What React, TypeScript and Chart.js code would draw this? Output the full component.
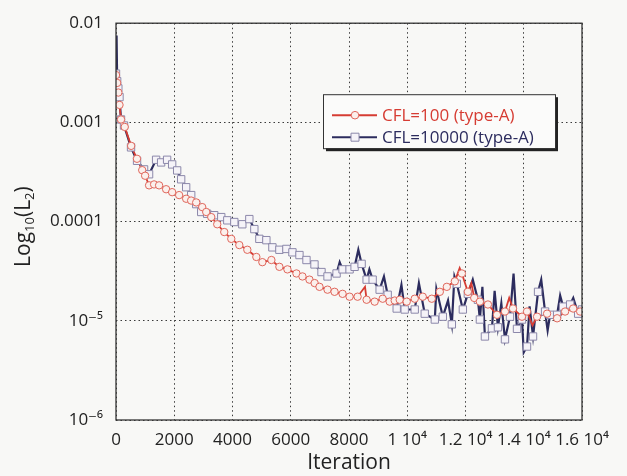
import { useEffect, useRef } from 'react';
import { Chart, registerables } from 'chart.js';

Chart.register(...registerables);

// ---------- data ----------
const seriesNames = ['CFL=100 (type-A)', 'CFL=10000 (type-A)'];

const xTickValues = [0, 2000, 4000, 6000, 8000, 10000, 12000, 14000, 16000];
const xTickLabels = ['0', '2000', '4000', '6000', '8000', '1 10⁴', '1.2 10⁴', '1.4 10⁴', '1.6 10⁴'];
const yTickValues = [1e-6, 1e-5, 1e-4, 1e-3, 1e-2];
const yTickLabels = ['10⁻⁶', '10⁻⁵', '0.0001', '0.001', '0.01'];

// CFL=100 (type-A): marker samples
const cfl100Iter = [
  0, 40, 80, 120, 172, 300, 520, 720, 900, 1000, 1136, 1308, 1480, 1721, 1928, 2168, 2409, 2580,
  2754, 2960, 3098, 3270, 3476, 3717, 3958, 4234, 4509, 4819, 5025, 5335, 5610, 5886, 6196, 6402,
  6643, 6820, 6987, 7263, 7504, 7779, 8020, 8295, 8605, 8881, 9156, 9397, 9570, 9741, 9982, 10257,
  10532, 10842, 11118, 11359, 11634, 11875, 12081, 12300, 12494, 12770, 13080, 13355, 13630, 13940,
  14112, 14457, 14801, 15145, 15420, 15696, 15937,
];
const cfl100Res = [
  3.0e-3, 2.5e-3, 2.0e-3, 1.5e-3, 1.07e-3, 9.0e-4, 5.8e-4, 4.3e-4, 3.3e-4, 2.9e-4, 2.32e-4, 2.37e-4,
  2.32e-4, 2.12e-4, 1.98e-4, 1.85e-4, 1.7e-4, 1.63e-4, 1.56e-4, 1.4e-4, 1.25e-4, 1.11e-4, 9.4e-5,
  7.85e-5, 6.7e-5, 5.8e-5, 5.2e-5, 4.4e-5, 3.9e-5, 4.1e-5, 3.5e-5, 3.3e-5, 3.0e-5, 2.8e-5, 2.6e-5,
  2.4e-5, 2.2e-5, 2.06e-5, 1.96e-5, 1.87e-5, 1.75e-5, 1.75e-5, 1.63e-5, 1.56e-5, 1.67e-5, 1.56e-5,
  1.6e-5, 1.63e-5, 1.56e-5, 1.67e-5, 1.75e-5, 1.67e-5, 1.96e-5, 2.2e-5, 2.5e-5, 3.0e-5, 1.96e-5,
  1.7e-5, 1.56e-5, 1.46e-5, 1.15e-5, 1.24e-5, 1.33e-5, 1.1e-5, 1.24e-5, 1.1e-5, 1.18e-5, 1.06e-5,
  1.24e-5, 1.33e-5, 1.24e-5,
];
// CFL=100 (type-A): extra residual spikes between markers (line only)
const cfl100SpikeIter = [8550, 11800, 12200, 13500, 14300];
const cfl100SpikeRes = [2.2e-5, 3.4e-5, 2.4e-5, 1.7e-5, 9.0e-6];

// CFL=10000 (type-A): marker samples
const cfl10000Iter = [
  0, 40, 80, 120, 172, 275, 516, 723, 964, 1136, 1377, 1549, 1755, 1928, 2100, 2237, 2409, 2582,
  2754, 2926, 3130, 3373, 3614, 3821, 4062, 4337, 4578, 4750, 4922, 5163, 5370, 5610, 5851, 6058,
  6299, 6540, 6815, 7056, 7263, 7573, 7779, 8020, 8192, 8433, 8605, 8812, 9052, 9328, 9638, 9913,
  10257, 10601, 10946, 11221, 11531, 11703, 11909, 12081, 12426, 12494, 12667, 12908, 13114, 13355,
  13527, 13768, 13940, 14112, 14319, 14491, 14732, 14904, 15145, 15351, 15593, 15868, 16000,
];
const cfl10000Res = [
  3.1e-3, 2.6e-3, 2.2e-3, 1.8e-3, 1.07e-3, 9.3e-4, 5.6e-4, 4.1e-4, 3.36e-4, 3.0e-4, 4.2e-4, 3.95e-4,
  4.2e-4, 3.77e-4, 3.28e-4, 2.67e-4, 2.22e-4, 1.85e-4, 1.5e-4, 1.25e-4, 1.2e-4, 1.16e-4, 1.11e-4,
  1.03e-4, 9.9e-5, 9.4e-5, 1.06e-4, 8.4e-5, 6.7e-5, 6.5e-5, 5.5e-5, 5.2e-5, 5.3e-5, 4.9e-5, 4.6e-5,
  4.1e-5, 3.7e-5, 3.1e-5, 2.8e-5, 3.0e-5, 3.3e-5, 3.3e-5, 3.5e-5, 3.75e-5, 2.6e-5, 2.6e-5, 2.06e-5,
  1.83e-5, 1.33e-5, 1.3e-5, 1.3e-5, 1.18e-5, 1.03e-5, 1.1e-5, 9.2e-6, 2.36e-5, 1.3e-5, 1.87e-5,
  1.63e-5, 1.03e-5, 6.95e-6, 8.4e-6, 8.6e-6, 6.5e-6, 1.1e-5, 8.3e-6, 1.03e-5, 5.5e-6, 6.95e-6,
  1.96e-5, 1.24e-5, 1.15e-5, 1.15e-5, 1.39e-5, 1.46e-5, 1.18e-5, 1.3e-5,
];
// CFL=10000 (type-A): extra residual spikes between markers (line only)
const cfl10000SpikeIter = [
  20, 7680, 8320, 8700, 9200, 9800, 10400, 11000, 11400, 11620, 12250, 12580, 13000, 13230, 13650,
  14000, 14200, 14600, 14820, 15250, 15700,
];
const cfl10000SpikeRes = [
  7.5e-3, 3.9e-5, 5.2e-5, 3.3e-5, 2.8e-5, 2.3e-5, 2.4e-5, 2.1e-5, 1.6e-5, 2.8e-5, 2.6e-5, 2.2e-5,
  2.0e-5, 1.5e-5, 3.0e-5, 4.8e-6, 1.4e-5, 2.6e-5, 8.0e-6, 1.8e-5, 1.7e-5,
];

// ---------- helpers ----------
type P = { x: number; y: number };
const toPoints = (xs: number[], ys: number[]): P[] => xs.map((x, i) => ({ x, y: ys[i] }));
const mergeLine = (xs: number[], ys: number[], sx: number[], sy: number[]): P[] =>
  [...toPoints(xs, ys), ...toPoints(sx, sy)].sort((a, b) => a.x - b.x);

const FONT = '"Open Sans", "DejaVu Sans", sans-serif';
const RED = '#d63c33';
const RED_MARK = '#e0675c';
const RED_FILL = '#fbf0ec';
const NAVY = '#2c2c5e';
const NAVY_MARK = '#8c88aa';
const NAVY_FILL = '#f5f3f8';
const INK = '#222222';

const decorPlugin = {
  id: 'decor',
  beforeDraw(chart: any) {
    const { ctx, width, height } = chart;
    ctx.save();
    ctx.fillStyle = '#f8f8f6';
    ctx.fillRect(0, 0, width, height);
    ctx.restore();
  },
  afterDatasetsDraw(chart: any) {
    const { ctx, chartArea: a } = chart;
    ctx.save();
    // plot frame
    ctx.strokeStyle = '#333';
    ctx.lineWidth = 1.3;
    ctx.strokeRect(a.left, a.top, a.right - a.left, a.bottom - a.top);

    // legend box
    const bx = a.left + 207;
    const by = a.top + 71;
    const bw = 232;
    const bh = 54;
    ctx.fillStyle = '#222';
    ctx.fillRect(bx + 3, by + 3, bw, bh);
    ctx.fillStyle = '#fbfbfa';
    ctx.fillRect(bx, by, bw, bh);
    ctx.strokeStyle = '#333';
    ctx.lineWidth = 1;
    ctx.strokeRect(bx + 0.5, by + 0.5, bw, bh);

    const rows = [
      { y: by + 21, line: RED, mark: RED_MARK, fill: RED_FILL, text: RED, shape: 'circle' },
      { y: by + 43, line: NAVY, mark: NAVY_MARK, fill: NAVY_FILL, text: NAVY, shape: 'rect' },
    ];
    rows.forEach((r, i) => {
      ctx.strokeStyle = r.line;
      ctx.lineWidth = 2;
      ctx.beginPath();
      ctx.moveTo(bx + 9, r.y);
      ctx.lineTo(bx + 54, r.y);
      ctx.stroke();
      ctx.fillStyle = r.fill;
      ctx.strokeStyle = r.mark;
      ctx.lineWidth = 1;
      ctx.beginPath();
      if (r.shape === 'circle') ctx.arc(bx + 32, r.y, 3.8, 0, Math.PI * 2);
      else ctx.rect(bx + 28, r.y - 4, 8, 8);
      ctx.fill();
      ctx.stroke();
      ctx.fillStyle = r.text;
      ctx.font = `17px ${FONT}`;
      ctx.textAlign = 'left';
      ctx.textBaseline = 'middle';
      ctx.fillText(seriesNames[i], bx + 59, r.y + 1);
    });
    ctx.restore();
  },
  afterDraw(chart: any) {
    const { ctx, chartArea: a } = chart;
    ctx.save();
    ctx.fillStyle = INK;
    // x title
    ctx.font = `21px ${FONT}`;
    ctx.textAlign = 'center';
    ctx.textBaseline = 'middle';
    ctx.fillText('Iteration', (a.left + a.right) / 2, 463);

    // y title with subscripts: Log10(L2)
    const parts = [
      { t: 'Log', s: 21, dy: 0 },
      { t: '10', s: 13, dy: 6 },
      { t: '(L', s: 21, dy: 0 },
      { t: '2', s: 13, dy: 6 },
      { t: ')', s: 21, dy: 0 },
    ];
    let total = 0;
    parts.forEach((p) => {
      ctx.font = `${p.s}px ${FONT}`;
      total += ctx.measureText(p.t).width;
    });
    ctx.translate(24, (a.top + a.bottom) / 2 + 5);
    ctx.rotate(-Math.PI / 2);
    ctx.textAlign = 'left';
    let cx = -total / 2;
    parts.forEach((p) => {
      ctx.font = `${p.s}px ${FONT}`;
      ctx.fillText(p.t, cx, p.dy);
      cx += ctx.measureText(p.t).width;
    });
    ctx.restore();
  },
};

export default function App() {
  const ref = useRef<HTMLCanvasElement | null>(null);

  useEffect(() => {
    document.body.style.margin = '0';
    if (!ref.current) return;
    const chart = new Chart(ref.current, {
      type: 'line',
      data: {
        datasets: [
          {
            label: seriesNames[1] + ' line',
            data: mergeLine(cfl10000Iter, cfl10000Res, cfl10000SpikeIter, cfl10000SpikeRes),
            borderColor: NAVY,
            borderWidth: 2.2,
            pointRadius: 0,
            tension: 0,
            order: 4,
          },
          {
            label: seriesNames[0] + ' line',
            data: mergeLine(cfl100Iter, cfl100Res, cfl100SpikeIter, cfl100SpikeRes),
            borderColor: RED,
            borderWidth: 1.8,
            pointRadius: 0,
            tension: 0,
            order: 3,
          },
          {
            label: seriesNames[1],
            data: toPoints(cfl10000Iter, cfl10000Res),
            showLine: false,
            pointStyle: 'rect',
            pointRadius: 5.2,
            pointBorderWidth: 1,
            pointBorderColor: NAVY_MARK,
            pointBackgroundColor: NAVY_FILL,
            order: 2,
          },
          {
            label: seriesNames[0],
            data: toPoints(cfl100Iter, cfl100Res),
            showLine: false,
            pointStyle: 'circle',
            pointRadius: 3.7,
            pointBorderWidth: 1,
            pointBorderColor: RED_MARK,
            pointBackgroundColor: RED_FILL,
            order: 1,
          },
        ],
      },
      options: {
        animation: false,
        responsive: false,
        maintainAspectRatio: false,
        layout: { padding: { left: 0, right: 45, top: 20, bottom: 0 } },
        plugins: { legend: { display: false }, tooltip: { enabled: false } },
        scales: {
          x: {
            type: 'linear',
            min: 0,
            max: 16000,
            afterBuildTicks: (s: any) => {
              s.ticks = xTickValues.map((v) => ({ value: v }));
            },
            afterFit: (s: any) => {
              s.height = 56;
            },
            ticks: {
              autoSkip: false,
              maxRotation: 0,
              padding: 10,
              color: INK,
              font: { family: FONT, size: 17 },
              callback: (_v: any, i: number) => xTickLabels[i],
            },
            grid: { color: '#3a3a3a', lineWidth: 1, drawTicks: false },
            border: { display: false, dash: [1.5, 3] },
          },
          y: {
            type: 'logarithmic',
            min: 1e-6,
            max: 1e-2,
            afterBuildTicks: (s: any) => {
              s.ticks = yTickValues.map((v) => ({ value: v }));
            },
            afterFit: (s: any) => {
              s.width = 116;
            },
            ticks: {
              autoSkip: false,
              padding: 13,
              color: INK,
              font: { family: FONT, size: 17 },
              callback: (_v: any, i: number) => yTickLabels[i],
            },
            grid: { color: '#3a3a3a', lineWidth: 1, drawTicks: false },
            border: { display: false, dash: [1.5, 3] },
          },
        },
      },
      plugins: [decorPlugin],
    });
    return () => chart.destroy();
  }, []);

  return (
    <div style={{ width: 627, height: 476 }}>
      <canvas ref={ref} width={627} height={476} style={{ display: 'block' }} />
    </div>
  );
}
